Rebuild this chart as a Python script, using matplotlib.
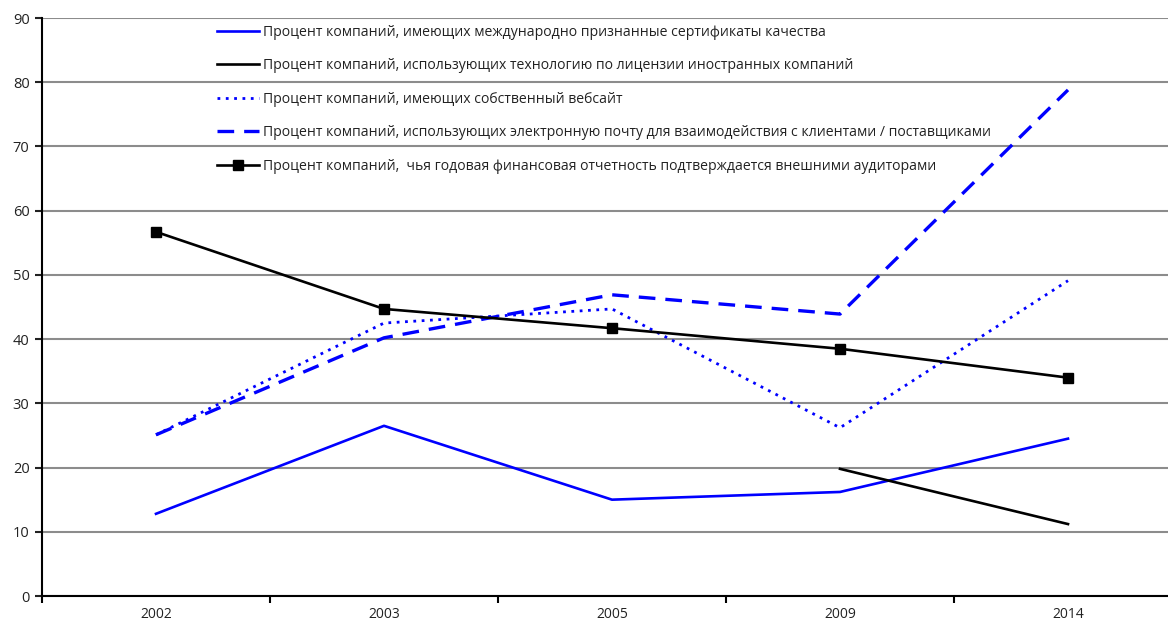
import matplotlib
matplotlib.use("Agg")
import matplotlib.pyplot as plt
import numpy as np

years = ["2002", "2003", "2005", "2009", "2014"]
labels = [
    "Процент компаний, имеющих международно признанные сертификаты качества",
    "Процент компаний, использующих технологию по лицензии иностранных компаний",
    "Процент компаний, имеющих собственный вебсайт",
    "Процент компаний, использующих электронную почту для взаимодействия с клиентами / поставщиками",
    "Процент компаний,  чья годовая финансовая отчетность подтверждается внешними аудиторами",
]
certificates = [12.8, 26.5, 15.0, 16.2, 24.5]
licenses = [np.nan, np.nan, np.nan, 19.8, 11.2]
website = [25.1, 42.5, 44.7, 26.2, 49.1]
email = [25.1, 40.2, 46.9, 43.9, 78.8]
audit = [56.7, 44.7, 41.7, 38.5, 34.0]

plt.rcParams['font.family'] = ['Open Sans', 'DejaVu Sans']

fig = plt.figure(figsize=(11.68, 6.23), dpi=100)
W, H = 1168, 623
ax = fig.add_axes([42 / W, 27 / H, (W - 42) / W, (596 - 18) / H])

x = np.arange(len(years))
blue = "#0000FF"
ax.plot(x, certificates, color=blue, lw=1.9, label=labels[0])
ax.plot(x, licenses, color="black", lw=1.9, label=labels[1])
ax.plot(x, website, color=blue, lw=2.0, linestyle=(0, (1, 2.0)), label=labels[2])
ax.plot(x, email, color=blue, lw=2.4, linestyle=(0, (5, 3)), label=labels[3])
ax.plot(x, audit, color="black", lw=1.9, marker="s", markersize=6.5, label=labels[4])

ax.set_ylim(0, 90)
ax.set_yticks(np.arange(0, 91, 10))
cat_w = 228
ax.set_xlim(-0.5, -0.5 + (W - 42) / cat_w)
ax.set_xticks([-0.5, 0.5, 1.5, 2.5, 3.5])
ax.set_xticklabels([])
ax.set_xticks(x, minor=True)
ax.set_xticklabels(years, minor=True)
ax.tick_params(axis="x", which="minor", length=0, pad=8, labelsize=10, colors="#222222")
ax.tick_params(axis="x", which="major", length=5, width=1.5, direction="out")
ax.tick_params(axis="y", length=5, width=1.5, direction="out", labelsize=10.5, colors="#222222", pad=4)

ax.grid(axis="y", color="#8c8c8c", lw=1.5)
ax.set_axisbelow(True)
for s in ["top", "right"]:
    ax.spines[s].set_visible(False)
for s in ["left", "bottom"]:
    ax.spines[s].set_linewidth(1.5)
    ax.spines[s].set_color("black")

leg = ax.legend(loc="upper left", bbox_to_anchor=((210 - 42) / (W - 42), 1.0),
                frameon=False, fontsize=10.1, handlelength=3.0, handletextpad=0.3,
                labelspacing=1.31, borderaxespad=0.1)
for t in leg.get_texts():
    t.set_color("#222222")

fig.savefig("out.png", dpi=100)
